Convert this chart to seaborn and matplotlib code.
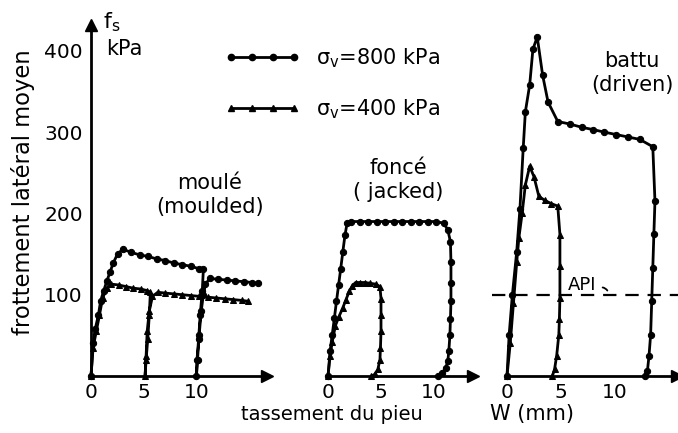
import matplotlib
matplotlib.use("Agg")
import matplotlib.pyplot as plt
import seaborn as sns
import pandas as pd
from matplotlib.lines import Line2D

# ---------------- data (settlement W in mm, skin friction fs in kPa) ----------------
moule_800_x = [0, 0.2, 0.4, 0.7, 0.9, 1.2, 1.5, 1.8, 2.1, 2.5, 3.0, 3.8, 4.6, 5.4, 6.2, 7.0, 7.8, 8.6,
               9.4, 10.2, 10.6, 10.5, 10.3, 10.15, 10.0, 9.95, 10.05, 10.2, 10.4, 10.6, 10.8, 11.2,
               12.0, 12.8, 13.6, 14.4, 15.2, 15.8]
moule_800_y = [0, 40, 58, 75, 92, 105, 117, 128, 139, 150, 156, 152, 149, 147, 144, 142, 139, 137,
               135, 132, 131, 105, 75, 45, 20, 0, 20, 50, 80, 100, 113, 120,
               119, 118, 117, 116, 115, 114]
moule_400_x = [0, 0.2, 0.5, 0.8, 1.1, 1.5, 1.9, 2.6, 3.3, 4.0, 4.7, 5.3, 5.6, 5.5, 5.35, 5.2, 5.1,
               5.2, 5.3, 5.5, 5.8, 6.3, 7.0, 7.8, 8.6, 9.4, 10.2, 11.0, 11.8, 12.6, 13.4, 14.2, 14.8]
moule_400_y = [0, 35, 55, 75, 96, 108, 113, 112, 110, 108, 107, 105, 103, 75, 45, 20, 0,
               25, 55, 80, 98, 103, 102, 101, 100, 99, 98, 97, 96, 95, 94, 93, 92]

fonce_800_x = [0, 0.2, 0.4, 0.6, 0.8, 1.0, 1.2, 1.4, 1.6, 1.8, 2.2, 3.0, 3.8, 4.6, 5.4, 6.2, 7.0,
               7.8, 8.6, 9.4, 10.2, 10.9, 11.3, 11.55, 11.6, 11.6, 11.6, 11.55, 11.5, 11.4, 11.3,
               11.1, 10.8, 10.4]
fonce_800_y = [0, 31, 51, 71, 92, 112, 132, 153, 173, 188, 190, 190, 190, 190, 190, 190, 190,
               190, 190, 190, 190, 188, 180, 165, 140, 115, 92, 70, 50, 31, 18,
               10, 4, 0]
fonce_400_x = [0, 0.2, 0.4, 0.7, 1.0, 1.4, 1.7, 2.0, 2.3, 2.6, 3.0, 3.5, 4.0, 4.5, 4.9, 5.0, 5.0,
               5.0, 4.95, 4.9, 4.7, 4.4, 4.1]
fonce_400_y = [0, 25, 42, 62, 72, 84, 94, 104, 111, 115, 115, 115, 114, 113, 110, 95, 75,
               55, 35, 20, 8, 2, 0]

battu_800_x = [0, 0.2, 0.5, 0.9, 1.2, 1.5, 1.7, 2.1, 2.4, 2.8, 3.3, 3.8, 4.7, 5.8, 6.9, 8.0, 9.0,
               10.1, 11.2, 12.3, 13.5, 13.7, 13.6, 13.5, 13.4, 13.3, 13.15, 13.0, 12.8]
battu_800_y = [0, 51, 100, 153, 206, 280, 325, 358, 402, 417, 370, 337, 313, 310, 306, 303, 300,
               297, 294, 291, 282, 215, 175, 133, 92, 51, 25, 6, 0]
battu_400_x = [0, 0.3, 0.6, 0.9, 1.1, 1.4, 1.7, 2.1, 2.5, 2.95, 3.5, 4.1, 4.7, 4.9, 4.9, 4.9, 4.85,
               4.8, 4.6, 4.4, 4.2]
battu_400_y = [0, 40, 90, 140, 170, 200, 235, 258, 245, 221, 216, 212, 209, 174, 135, 96, 70,
               51, 25, 8, 0]

api_level = 100
api_x = [-1.35, 16.2]

panel_titles = ["moulé\n(moulded)", "foncé\n( jacked)", "battu\n(driven)"]
legend_labels = [r"$\sigma_v$=800 kPa", r"$\sigma_v$=400 kPa"]
yticks = [100, 200, 300, 400]
xticks = [0, 5, 10]

# ---------------- style ----------------
sns.set_theme(style="white")
plt.rcParams['font.family'] = ['DejaVu Sans']
plt.rcParams['mathtext.default'] = 'regular'
plt.rcParams['text.color'] = 'black'
FS = 15
TFS = 14.5

W, H = 678, 433
fig = plt.figure(figsize=(W / 100, H / 100), dpi=100)
fig.patch.set_facecolor("white")


def fx(px):
    return px / W


def fy(py):
    return 1 - py / H


y0px, ytoppx, yscale = 376, 25, 0.813
ymax = (y0px - ytoppx) / yscale

panels = [(91, 267, 10.6), (328, 473, 10.6), (507, 677, 10.8)]
datasets = [
    (moule_800_x, moule_800_y, moule_400_x, moule_400_y),
    (fonce_800_x, fonce_800_y, fonce_400_x, fonce_400_y),
    (battu_800_x, battu_800_y, battu_400_x, battu_400_y),
]

axes = []
for i, ((l, r, sc), (x8, y8, x4, y4)) in enumerate(zip(panels, datasets)):
    ax = fig.add_axes([fx(l), fy(y0px), (r - l) / W, (y0px - ytoppx) / H])
    ax.set_facecolor("none")
    d8 = pd.DataFrame({"W": x8, "fs": y8})
    d4 = pd.DataFrame({"W": x4, "fs": y4})
    sns.lineplot(data=d8, x="W", y="fs", sort=False, estimator=None, ax=ax, color="black",
                 lw=2.0, marker="o", markersize=4.5, markeredgecolor="black", clip_on=False)
    sns.lineplot(data=d4, x="W", y="fs", sort=False, estimator=None, ax=ax, color="black",
                 lw=2.0, marker="^", markersize=5, markeredgecolor="black", clip_on=False)
    ax.set_xlim(0, (r - l) / sc)
    ax.set_ylim(0, ymax)
    ax.set_xlabel("")
    ax.set_ylabel("")
    for s in ["top", "right"]:
        ax.spines[s].set_visible(False)
    ax.spines["bottom"].set_color("black")
    ax.spines["bottom"].set_linewidth(2.0)
    ax.set_xticks(xticks)
    ax.set_xticklabels([str(t) for t in xticks], fontsize=TFS)
    ax.tick_params(axis="x", direction="in", length=4, width=1.5, pad=5, colors="black")
    ax.plot(1, 0, marker=">", ms=9, color="black", transform=ax.transAxes, clip_on=False)
    if i == 0:
        ax.spines["left"].set_color("black")
        ax.spines["left"].set_linewidth(2.0)
        ax.set_yticks(yticks)
        ax.set_yticklabels([str(t) for t in yticks], fontsize=TFS)
        ax.tick_params(axis="y", direction="inout", length=6, width=1.5, pad=3, colors="black")
        ax.plot(0, 1, marker="^", ms=9, color="black", transform=ax.transAxes, clip_on=False)
    else:
        ax.spines["left"].set_visible(False)
        ax.set_yticks([])
    axes.append(ax)

# API line on driven panel
ax3 = axes[2]
ax3.plot(api_x, [api_level, api_level], color="black", lw=1.6, ls=(0, (6, 4)), clip_on=False)
ax3.text(7.0, 112, "API", fontsize=13, ha="center", va="center")
ax3.annotate("", xy=(9.4, api_level + 2), xytext=(8.6, 109),
             arrowprops=dict(arrowstyle="-", color="black", lw=1.3,
                             connectionstyle="arc3,rad=-0.4"))

# panel titles
fig.text(fx(210), fy(195), panel_titles[0], ha="center", va="center", fontsize=FS,
         linespacing=1.2)
fig.text(fx(398), fy(180), panel_titles[1], ha="center", va="center", fontsize=FS,
         linespacing=1.2)
fig.text(fx(632), fy(73), panel_titles[2], ha="center", va="center", fontsize=FS,
         linespacing=1.2)

# axis labels
fig.text(fx(23), fy(192), "frottement latéral moyen", rotation=90, ha="center", va="center",
         fontsize=16.3)
fig.text(fx(103), fy(22), r"$f_s$", ha="left", va="center", fontsize=FS + 1)
fig.text(fx(106), fy(49), "kPa", ha="left", va="center", fontsize=FS)
fig.text(fx(332), fy(415), "tassement du pieu", ha="center", va="center", fontsize=14)
fig.text(fx(532), fy(414), "W (mm)", ha="center", va="center", fontsize=FS)

# legend
handles = [
    Line2D([0], [0], color="black", lw=2.0, marker="o", markersize=4.5),
    Line2D([0], [0], color="black", lw=2.0, marker="^", markersize=5),
]
fig.legend(handles, legend_labels, loc="upper left", bbox_to_anchor=(fx(206), fy(28)),
           numpoints=4, handlelength=3.6, handletextpad=0.8, labelspacing=1.3,
           frameon=False, fontsize=FS)

fig.savefig("out.png", dpi=100, facecolor="white")
